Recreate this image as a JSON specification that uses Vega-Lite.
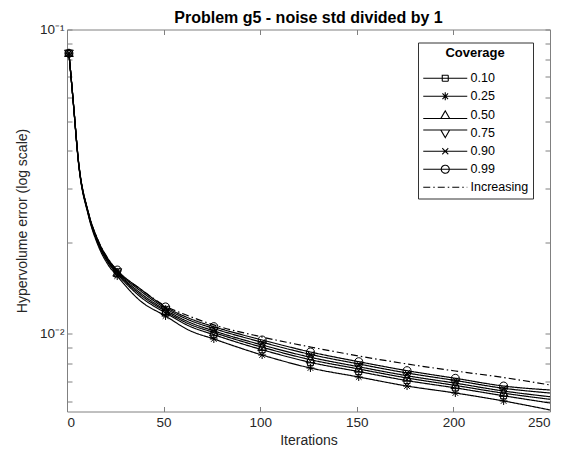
{
  "$schema": "https://vega.github.io/schema/vega-lite/v6.json",
  "width": 483,
  "height": 382,
  "autosize": {"type": "none"},
  "padding": {"left": 67, "top": 29.5, "right": 11, "bottom": 47.5},
  "background": "white",
  "title": {"text": "Problem g5 - noise std divided by 1", "font": "Liberation Sans", "fontSize": 16, "fontWeight": "bold", "color": "black", "offset": -3},
  "config": {
    "view": {"stroke": null},
    "font": "Liberation Sans",
    "axis": {
      "grid": false,
      "domainColor": "#808080",
      "tickColor": "#808080",
      "domainWidth": 1,
      "tickWidth": 1,
      "tickSize": -5,
      "labelColor": "#262626",
      "titleColor": "#262626",
      "labelFontSize": 13.5,
      "titleFontSize": 14,
      "titleFontWeight": "normal",
      "labelFont": "Liberation Sans",
      "titleFont": "Liberation Sans",
      "labelOverlap": false
    }
  },
  "datasets": {
    "runs": [
      {"s": "0.10", "it": 1, "v": 0.08353}, {"s": "0.10", "it": 3, "v": 0.0601}, {"s": "0.10", "it": 6, "v": 0.03635}, {"s": "0.10", "it": 11, "v": 0.02478}, {"s": "0.10", "it": 16, "v": 0.01986}, {"s": "0.10", "it": 21, "v": 0.01725}, {"s": "0.10", "it": 26, "v": 0.01575}, {"s": "0.10", "it": 38, "v": 0.01325}, {"s": "0.10", "it": 51, "v": 0.01173}, {"s": "0.10", "it": 63, "v": 0.01064}, {"s": "0.10", "it": 76, "v": 0.009947}, {"s": "0.10", "it": 101, "v": 0.008877}, {"s": "0.10", "it": 126, "v": 0.008067}, {"s": "0.10", "it": 151, "v": 0.007526}, {"s": "0.10", "it": 176, "v": 0.007031}, {"s": "0.10", "it": 201, "v": 0.006653}, {"s": "0.10", "it": 226, "v": 0.006268}, {"s": "0.10", "it": 250, "v": 0.005935},
      {"s": "0.25", "it": 1, "v": 0.08353}, {"s": "0.25", "it": 3, "v": 0.0600}, {"s": "0.25", "it": 6, "v": 0.03616}, {"s": "0.25", "it": 11, "v": 0.02459}, {"s": "0.25", "it": 16, "v": 0.0196}, {"s": "0.25", "it": 21, "v": 0.01698}, {"s": "0.25", "it": 26, "v": 0.0155}, {"s": "0.25", "it": 38, "v": 0.01284}, {"s": "0.25", "it": 51, "v": 0.01146}, {"s": "0.25", "it": 63, "v": 0.0103}, {"s": "0.25", "it": 76, "v": 0.009629}, {"s": "0.25", "it": 101, "v": 0.008531}, {"s": "0.25", "it": 126, "v": 0.007733}, {"s": "0.25", "it": 151, "v": 0.007224}, {"s": "0.25", "it": 176, "v": 0.006747}, {"s": "0.25", "it": 201, "v": 0.0064}, {"s": "0.25", "it": 226, "v": 0.006026}, {"s": "0.25", "it": 250, "v": 0.00563},
      {"s": "0.50", "it": 1, "v": 0.08353}, {"s": "0.50", "it": 3, "v": 0.0602}, {"s": "0.50", "it": 6, "v": 0.03643}, {"s": "0.50", "it": 11, "v": 0.02489}, {"s": "0.50", "it": 16, "v": 0.01999}, {"s": "0.50", "it": 21, "v": 0.01738}, {"s": "0.50", "it": 26, "v": 0.01587}, {"s": "0.50", "it": 38, "v": 0.01345}, {"s": "0.50", "it": 51, "v": 0.01187}, {"s": "0.50", "it": 63, "v": 0.0108}, {"s": "0.50", "it": 76, "v": 0.01011}, {"s": "0.50", "it": 101, "v": 0.009049}, {"s": "0.50", "it": 126, "v": 0.008234}, {"s": "0.50", "it": 151, "v": 0.007676}, {"s": "0.50", "it": 176, "v": 0.00717}, {"s": "0.50", "it": 201, "v": 0.006778}, {"s": "0.50", "it": 226, "v": 0.006391}, {"s": "0.50", "it": 250, "v": 0.006103},
      {"s": "0.75", "it": 1, "v": 0.08353}, {"s": "0.75", "it": 3, "v": 0.0603}, {"s": "0.75", "it": 6, "v": 0.03652}, {"s": "0.75", "it": 11, "v": 0.02496}, {"s": "0.75", "it": 16, "v": 0.0201}, {"s": "0.75", "it": 21, "v": 0.0175}, {"s": "0.75", "it": 26, "v": 0.01598}, {"s": "0.75", "it": 38, "v": 0.01363}, {"s": "0.75", "it": 51, "v": 0.01199}, {"s": "0.75", "it": 63, "v": 0.01095}, {"s": "0.75", "it": 76, "v": 0.01024}, {"s": "0.75", "it": 101, "v": 0.009203}, {"s": "0.75", "it": 126, "v": 0.008386}, {"s": "0.75", "it": 151, "v": 0.007806}, {"s": "0.75", "it": 176, "v": 0.007293}, {"s": "0.75", "it": 201, "v": 0.006896}, {"s": "0.75", "it": 226, "v": 0.006497}, {"s": "0.75", "it": 250, "v": 0.006223},
      {"s": "0.90", "it": 1, "v": 0.08353}, {"s": "0.90", "it": 3, "v": 0.0604}, {"s": "0.90", "it": 6, "v": 0.03663}, {"s": "0.90", "it": 11, "v": 0.02507}, {"s": "0.90", "it": 16, "v": 0.02024}, {"s": "0.90", "it": 21, "v": 0.01764}, {"s": "0.90", "it": 26, "v": 0.01611}, {"s": "0.90", "it": 38, "v": 0.01386}, {"s": "0.90", "it": 51, "v": 0.01214}, {"s": "0.90", "it": 63, "v": 0.01113}, {"s": "0.90", "it": 76, "v": 0.01042}, {"s": "0.90", "it": 101, "v": 0.009395}, {"s": "0.90", "it": 126, "v": 0.00857}, {"s": "0.90", "it": 151, "v": 0.007971}, {"s": "0.90", "it": 176, "v": 0.007446}, {"s": "0.90", "it": 201, "v": 0.007036}, {"s": "0.90", "it": 226, "v": 0.006633}, {"s": "0.90", "it": 250, "v": 0.0064},
      {"s": "0.99", "it": 1, "v": 0.08353}, {"s": "0.99", "it": 3, "v": 0.06046}, {"s": "0.99", "it": 6, "v": 0.03671}, {"s": "0.99", "it": 11, "v": 0.02516}, {"s": "0.99", "it": 16, "v": 0.02036}, {"s": "0.99", "it": 21, "v": 0.01776}, {"s": "0.99", "it": 26, "v": 0.01622}, {"s": "0.99", "it": 38, "v": 0.01405}, {"s": "0.99", "it": 51, "v": 0.01227}, {"s": "0.99", "it": 63, "v": 0.01128}, {"s": "0.99", "it": 76, "v": 0.01057}, {"s": "0.99", "it": 101, "v": 0.009557}, {"s": "0.99", "it": 126, "v": 0.008728}, {"s": "0.99", "it": 151, "v": 0.00811}, {"s": "0.99", "it": 176, "v": 0.007578}, {"s": "0.99", "it": 201, "v": 0.007153}, {"s": "0.99", "it": 226, "v": 0.006747}, {"s": "0.99", "it": 250, "v": 0.006547},
      {"s": "Increasing", "it": 1, "v": 0.08353}, {"s": "Increasing", "it": 3, "v": 0.0605}, {"s": "Increasing", "it": 6, "v": 0.0367}, {"s": "Increasing", "it": 11, "v": 0.02516}, {"s": "Increasing", "it": 16, "v": 0.02036}, {"s": "Increasing", "it": 21, "v": 0.01776}, {"s": "Increasing", "it": 26, "v": 0.0161}, {"s": "Increasing", "it": 38, "v": 0.01405}, {"s": "Increasing", "it": 51, "v": 0.01236}, {"s": "Increasing", "it": 63, "v": 0.01146}, {"s": "Increasing", "it": 76, "v": 0.01071}, {"s": "Increasing", "it": 101, "v": 0.009775}, {"s": "Increasing", "it": 126, "v": 0.009064}, {"s": "Increasing", "it": 151, "v": 0.00847}, {"s": "Increasing", "it": 176, "v": 0.00797}, {"s": "Increasing", "it": 201, "v": 0.00756}, {"s": "Increasing", "it": 226, "v": 0.007196}, {"s": "Increasing", "it": 250, "v": 0.0068}
    ]
  },
  "data": {"name": "runs"},
  "layer": [
    {
      "mark": {"type": "line", "color": "black", "strokeWidth": 1.2, "interpolate": "monotone"},
      "encoding": {
        "x": {"field": "it", "type": "quantitative", "scale": {"domain": [0, 250], "nice": false, "zero": false},
              "axis": {"orient": "bottom", "values": [0, 50, 100, 150, 200, 250], "title": "Iterations", "labelPadding": 9, "titlePadding": 4}},
        "y": {"field": "v", "type": "quantitative", "scale": {"type": "log", "domain": [0.005565, 0.1], "nice": false},
              "axis": {"orient": "left", "values": [0.006, 0.007, 0.008, 0.009, 0.01, 0.02, 0.03, 0.04, 0.05, 0.06, 0.07, 0.08, 0.09, 0.1],
                       "labelExpr": "datum.value == 0.1 ? '10⁻¹' : (datum.value == 0.01 ? '10⁻²' : '')",
                       "title": "Hypervolume error (log scale)", "labelPadding": 8, "titlePadding": 10}},
        "detail": {"field": "s", "type": "nominal"},
        "strokeDash": {
          "field": "s", "type": "nominal",
          "scale": {"domain": ["0.10", "0.25", "0.50", "0.75", "0.90", "0.99", "Increasing"],
                    "range": [[1, 0], [1, 0], [1, 0], [1, 0], [1, 0], [1, 0], [7, 3, 1.5, 3]]},
          "legend": {
            "orient": "none", "legendX": 351, "legendY": 13,
            "title": "Coverage", "titleFontSize": 13, "titleFontWeight": "bold", "titleColor": "black",
            "titleAnchor": "middle", "titleAlign": "center", "titlePadding": 12.5,
            "labelFontSize": 12.5, "labelColor": "black", "labelFont": "Liberation Sans", "titleFont": "Liberation Sans",
            "strokeColor": "#333333", "fillColor": "white", "padding": 4,
            "symbolSize": 64, "symbolOffset": 17, "labelOffset": 19, "rowPadding": 5,
            "symbolStrokeColor": "black", "symbolStrokeWidth": 1.1,
            "encode": {
              "symbols": {
                "update": {
                  "shape": {"signal": "datum.value == '0.10' ? 'M-5.5,0H5.5M-0.75,-0.75H0.75V0.75H-0.75Z' : datum.value == '0.25' ? 'M-5.5,0H5.5M0,-1V1M-0.7,-0.7L0.7,0.7M-0.7,0.7L0.7,-0.7' : datum.value == '0.50' ? 'M-5.5,0.8H5.5M0,-1.1L1.1,0.8H-1.1Z' : datum.value == '0.75' ? 'M-5.5,-0.8H5.5M0,1.1L1.1,-0.8H-1.1Z' : datum.value == '0.90' ? 'M-5.5,0H5.5M-0.75,-0.75L0.75,0.75M-0.75,0.75L0.75,-0.75' : datum.value == '0.99' ? 'M-5.5,0H5.5M1,0A1,1,0,1,1,-1,0A1,1,0,1,1,1,0Z' : 'M-5.5,0H5.5'"},
                  "fill": {"value": "transparent"},
                  "stroke": {"value": "black"}
                }
              }
            }
          }
        }
      }
    },
    {
      "transform": [{"filter": "datum.s != 'Increasing' && (datum.it - 1) % 25 == 0"}],
      "mark": {"type": "point", "filled": false, "color": "black", "strokeWidth": 1, "size": 64, "opacity": 1},
      "encoding": {
        "x": {"field": "it", "type": "quantitative", "scale": {"domain": [0, 250], "nice": false, "zero": false},
              "axis": {"orient": "top", "values": [0, 50, 100, 150, 200, 250], "labels": false, "title": null}},
        "y": {"field": "v", "type": "quantitative", "scale": {"type": "log", "domain": [0.005565, 0.1], "nice": false},
              "axis": {"orient": "right", "values": [0.006, 0.007, 0.008, 0.009, 0.01, 0.02, 0.03, 0.04, 0.05, 0.06, 0.07, 0.08, 0.09, 0.1], "labels": false, "title": null}},
        "shape": {
          "field": "s", "type": "nominal",
          "scale": {"domain": ["0.10", "0.25", "0.50", "0.75", "0.90", "0.99"],
                    "range": ["M-0.75,-0.75H0.75V0.75H-0.75Z",
                              "M0,-1V1M-1,0H1M-0.7,-0.7L0.7,0.7M-0.7,0.7L0.7,-0.7",
                              "M0,-1.1L1.1,0.8H-1.1Z",
                              "M0,1.1L1.1,-0.8H-1.1Z",
                              "M-0.75,-0.75L0.75,0.75M-0.75,0.75L0.75,-0.75",
                              "M1,0A1,1,0,1,1,-1,0A1,1,0,1,1,1,0Z"]},
          "legend": null
        }
      }
    }
  ],
  "resolve": {"axis": {"x": "independent", "y": "independent"}}
}
